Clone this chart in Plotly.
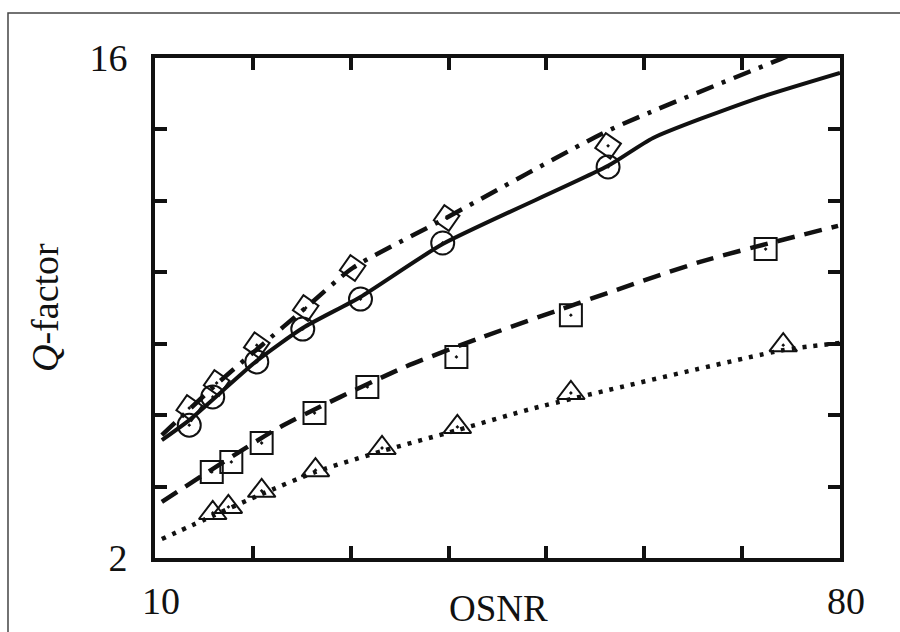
import plotly.graph_objects as go

# ---- measured data (OSNR, Q-factor) ----
osnr_circle = [13.5, 15.9, 20.4, 25.1, 31.0, 39.4, 56.3]
q_circle = [5.72, 6.51, 7.49, 8.41, 9.25, 10.82, 12.95]

osnr_diamond = [13.5, 16.3, 20.4, 25.4, 30.2, 39.8, 56.3]
q_diamond = [6.20, 6.90, 7.96, 9.00, 10.12, 11.52, 13.54]

osnr_square = [15.8, 17.8, 20.9, 26.3, 31.7, 40.8, 52.5, 72.4]
q_square = [4.41, 4.69, 5.22, 6.06, 6.79, 7.63, 8.80, 10.65]

osnr_triangle = [15.9, 17.5, 20.9, 26.4, 33.2, 40.9, 52.5, 74.2]
q_triangle = [3.26, 3.43, 3.88, 4.46, 5.08, 5.67, 6.62, 7.96]

# ---- fitted curves ----
fit_solid_x = [10.7, 13.5, 20.4, 25.1, 31.0, 39.4, 56.3, 60.9, 71.1, 80.0]
fit_solid_y = [5.30, 5.86, 7.52, 8.44, 9.31, 10.79, 12.98, 13.76, 14.83, 15.58]

fit_dashdot_x = [10.7, 16.3, 20.7, 25.5, 30.2, 39.4, 56.5, 73.9, 80.0]
fit_dashdot_y = [5.44, 6.87, 7.91, 9.03, 10.12, 11.47, 13.99, 15.97, 16.67]

fit_dashed_x = [10.7, 22.8, 35.3, 43.2, 65.7, 79.8]
fit_dashed_y = [3.57, 5.67, 7.32, 8.16, 10.29, 11.30]

fit_dotted_x = [10.7, 15.9, 20.9, 26.4, 33.3, 40.9, 48.8, 74.2, 80.0]
fit_dotted_y = [2.53, 3.18, 3.79, 4.41, 5.00, 5.58, 6.20, 7.82, 8.02]

x_ticks = [10, 20, 30, 40, 50, 60, 70, 80]
x_ticktext = ["10", "", "", "", "", "", "", "80"]
y_ticks = [2, 4, 6, 8, 10, 12, 14, 16]
y_ticktext = ["2", "", "", "", "", "", "", "16"]

BLACK = "#111111"
SERIF = "Liberation Serif"

fig = go.Figure()

# fitted lines
fig.add_trace(go.Scatter(x=fit_solid_x, y=fit_solid_y, mode="lines",
                         line=dict(color=BLACK, width=4, shape="spline", smoothing=0.6),
                         showlegend=False))
fig.add_trace(go.Scatter(x=fit_dashdot_x, y=fit_dashdot_y, mode="lines",
                         line=dict(color=BLACK, width=4.5, dash="18px,9px,4px,9px",
                                   shape="spline", smoothing=0.6),
                         showlegend=False))
fig.add_trace(go.Scatter(x=fit_dashed_x, y=fit_dashed_y, mode="lines",
                         line=dict(color=BLACK, width=4.5, dash="18px,10px",
                                   shape="spline", smoothing=0.6),
                         showlegend=False))
fig.add_trace(go.Scatter(x=fit_dotted_x, y=fit_dotted_y, mode="lines",
                         line=dict(color=BLACK, width=4.5, dash="4px,7px",
                                   shape="spline", smoothing=0.6),
                         showlegend=False))

# markers
mk_line = dict(color=BLACK, width=2)
fig.add_trace(go.Scatter(x=osnr_circle, y=q_circle, mode="markers",
                         marker=dict(symbol="circle-open-dot", size=23, color=BLACK, line=mk_line),
                         showlegend=False))
fig.add_trace(go.Scatter(x=osnr_diamond, y=q_diamond, mode="markers",
                         marker=dict(symbol="diamond-open-dot", size=20, angle=-10, color=BLACK, line=mk_line),
                         showlegend=False))
fig.add_trace(go.Scatter(x=osnr_square, y=q_square, mode="markers",
                         marker=dict(symbol="square-open-dot", size=22, color=BLACK, line=mk_line),
                         showlegend=False))
fig.add_trace(go.Scatter(x=osnr_triangle, y=q_triangle, mode="markers",
                         marker=dict(symbol="triangle-up-open-dot", size=24, color=BLACK, line=mk_line),
                         showlegend=False))

axis_common = dict(
    showline=True, linewidth=4, linecolor=BLACK, mirror="ticks",
    ticks="inside", ticklen=12, tickwidth=3.5, tickcolor=BLACK,
    showgrid=False, zeroline=False,
    tickfont=dict(family=SERIF, size=38, color=BLACK),
)

fig.update_xaxes(range=[10, 80], tickmode="array", tickvals=x_ticks, ticktext=x_ticktext,
                 ticklabelstandoff=6, ticklabelshift=6, **axis_common)
fig.update_yaxes(range=[2, 16], tickmode="array", tickvals=y_ticks, ticktext=y_ticktext,
                 ticklabelstandoff=16, **axis_common)

# outer frame (gray border of the figure)
fig.add_shape(type="path", xref="paper", yref="paper",
              path="M -0.2146,-0.3 L -0.2146,1.09 L 1.2,1.09",
              line=dict(color="#444444", width=1.5))

# axis titles
fig.add_annotation(text="<i>Q</i>-factor", xref="paper", yref="paper",
                   x=-0.1606, y=0.502, textangle=-90, showarrow=False,
                   xanchor="center", yanchor="middle",
                   font=dict(family=SERIF, size=38, color=BLACK))
fig.add_annotation(text="OSNR", xref="paper", yref="paper",
                   x=(498 - 155) / 685, y=(558 - 586) / 500, showarrow=False,
                   xanchor="center", yanchor="top",
                   font=dict(family=SERIF, size=37, color=BLACK))

fig.update_layout(
    width=900, height=632,
    margin=dict(l=155, r=60, t=58, b=74, autoexpand=False),
    paper_bgcolor="white", plot_bgcolor="white",
    showlegend=False,
)

fig.write_html("out.html", config={"displayModeBar": False},
               post_script="document.body.style.margin='0';document.body.style.overflow='hidden';")
